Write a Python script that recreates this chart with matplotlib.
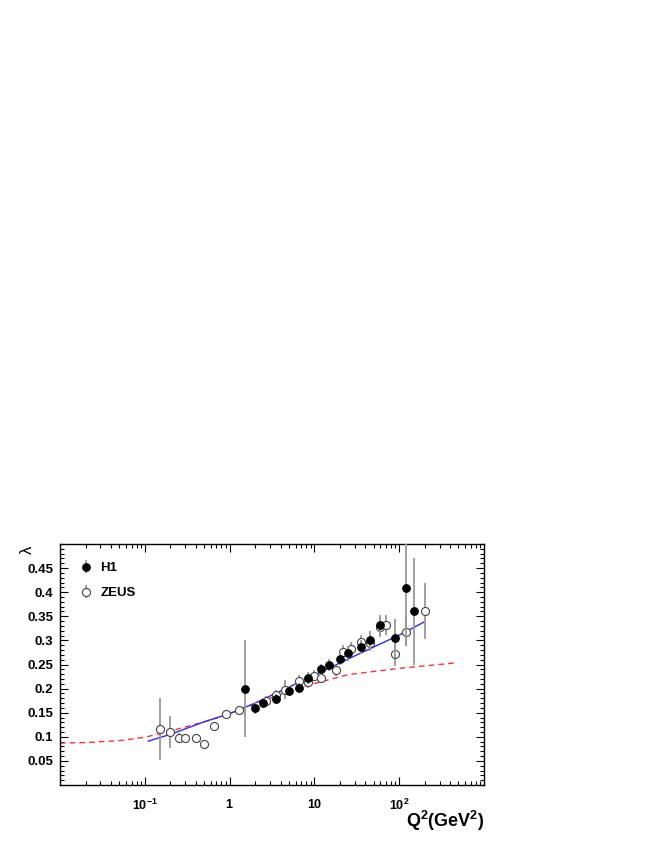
import matplotlib
matplotlib.use('Agg')
from matplotlib import pyplot as plt
from matplotlib.ticker import FixedLocator, FixedFormatter, MultipleLocator, NullFormatter
import numpy as np

plt.rcParams['font.family'] = ['Liberation Sans', 'DejaVu Sans']
plt.rcParams['mathtext.fontset'] = 'custom'
plt.rcParams['mathtext.rm'] = 'Liberation Sans'
plt.rcParams['mathtext.bf'] = 'Liberation Sans:bold'

# H1 points
h1_q2 = [1.5, 2.0, 2.5, 3.5, 5.0, 6.5, 8.5, 12, 15, 20, 25, 35, 45, 60, 90, 120, 150]
h1_lam = [0.200, 0.159, 0.170, 0.179, 0.196, 0.202, 0.222, 0.240, 0.249, 0.261, 0.273, 0.286, 0.301, 0.332, 0.304, 0.408, 0.360]
h1_err = [0.100, 0.012, 0.010, 0.010, 0.010, 0.010, 0.012, 0.012, 0.012, 0.012, 0.015, 0.015, 0.018, 0.020, 0.040, 0.120, 0.110]

# ZEUS points
zeus_q2 = [0.15, 0.2, 0.25, 0.3, 0.4, 0.5, 0.65, 0.9, 1.3, 2.7, 3.5, 4.5, 6.5, 8.5,
           10, 12, 18, 22, 27, 35, 45, 60, 70, 90, 120, 200]
zeus_lam = [0.116, 0.110, 0.098, 0.098, 0.098, 0.086, 0.122, 0.148, 0.156, 0.175, 0.187, 0.198, 0.216, 0.214,
            0.227, 0.223, 0.238, 0.276, 0.282, 0.297, 0.294, 0.328, 0.332, 0.272, 0.318, 0.361]
zeus_err = [0.065, 0.034, 0.010, 0.005, 0.005, 0.005, 0.006, 0.008, 0.008, 0.010, 0.010, 0.020, 0.012, 0.012,
            0.012, 0.012, 0.012, 0.015, 0.015, 0.015, 0.015, 0.020, 0.020, 0.025, 0.030, 0.058]

# fit curves
blue_q2 = [0.11, 0.2, 0.5, 1, 2, 5, 10, 30, 100, 196]
blue_lam = [0.091, 0.105, 0.131, 0.148, 0.170, 0.203, 0.228, 0.268, 0.311, 0.338]

red_q2 = [0.01, 0.02, 0.05, 0.1, 0.2, 0.5, 1, 3, 7.6, 25, 100, 445]
red_lam = [0.087, 0.088, 0.092, 0.099, 0.112, 0.131, 0.148, 0.180, 0.205, 0.229, 0.242, 0.253]

fig = plt.figure(figsize=(6.54, 8.46), dpi=100)
ax = fig.add_axes([60/654, 61/846, 424/654, 241/846])

ax.plot(red_q2, red_lam, color='#ff3030', lw=1.0, ls=(0, (4, 3)), zorder=2)
ax.plot(blue_q2, blue_lam, color='#2a2aff', lw=1.0, zorder=2)

zeus = ax.errorbar(zeus_q2, zeus_lam, yerr=zeus_err, fmt='o', ms=5.8, mfc='white', mec='#444444',
                   mew=0.8, ecolor='#999999', elinewidth=1.3, capsize=0, zorder=3)
h1 = ax.errorbar(h1_q2, h1_lam, yerr=h1_err, fmt='o', ms=5.3, mfc='black', mec='black',
                 ecolor='#999999', elinewidth=1.3, capsize=0, zorder=4)

ax.set_xscale('log')
ax.set_xlim(0.01, 1000)
ax.set_ylim(0, 0.5)

# ticks
ax.xaxis.set_major_locator(FixedLocator([0.1, 1, 10, 100]))
ax.xaxis.set_major_formatter(FixedFormatter([r'$\mathbf{10^{-1}}$', r'$\mathbf{1}$',
                                             r'$\mathbf{10}$', r'$\mathbf{10^{2}}$']))
minors = [m * 10.0**e for e in range(-2, 3) for m in range(2, 10)]
ax.xaxis.set_minor_locator(FixedLocator(minors))
ax.xaxis.set_minor_formatter(NullFormatter())
ax.yaxis.set_major_locator(FixedLocator([0.05, 0.1, 0.15, 0.2, 0.25, 0.3, 0.35, 0.4, 0.45]))
ax.yaxis.set_major_formatter(FixedFormatter(['0.05', '0.1', '0.15', '0.2', '0.25', '0.3', '0.35', '0.4', '0.45']))
ax.yaxis.set_minor_locator(MultipleLocator(0.01))

ax.tick_params(which='both', direction='in', top=True, right=True, width=0.8)
ax.tick_params(which='major', length=6)
ax.tick_params(which='minor', length=3)
ax.tick_params(axis='x', which='major', pad=9, labelsize=9)
ax.tick_params(axis='y', which='major', pad=5, labelsize=9.5)
for lab in ax.get_yticklabels():
    lab.set_fontweight('bold')
for sp in ax.spines.values():
    sp.set_linewidth(1.0)

ax.set_xlabel(r'$\mathbf{Q^{2}(GeV^{2})}$', loc='right', fontsize=13, labelpad=-3)
ax.text(-0.078, 0.975, 'λ', transform=ax.transAxes, rotation=90, ha='center', va='center', fontsize=12)

leg = ax.legend([h1, zeus], ['H1', 'ZEUS'], loc='upper left', bbox_to_anchor=(0.046, 0.925),
                frameon=False, borderpad=0, borderaxespad=0, handlelength=1.0, handletextpad=0.6,
                labelspacing=0.98, prop={'weight': 'bold', 'size': 9.5})

plt.savefig('out.png', dpi=100)
